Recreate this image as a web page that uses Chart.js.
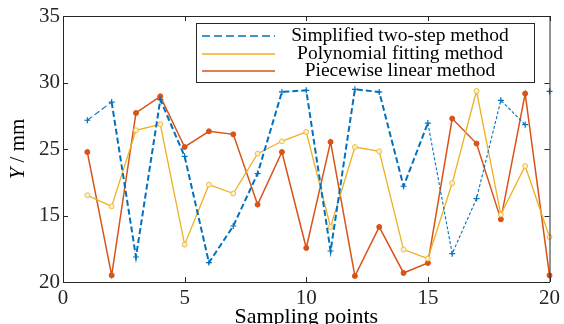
<!DOCTYPE html>
<html>
<head>
<meta charset="utf-8">
<script src="https://cdn.jsdelivr.net/npm/chart.js@4.4.1/dist/chart.umd.min.js"></script>
<style>
  html, body { margin: 0; padding: 0; background: #fff; }
</style>
</head>
<body>
<canvas id="chart" width="564" height="324"></canvas>
<script>
// data
const samplePoints = [1, 2, 3, 4, 5, 6, 7, 8, 9, 10, 11, 12, 13, 14, 15, 16, 17, 18, 19, 20];
const twoStep   = [27.16, 28.53, 16.88, 28.71, 24.45, 16.46, 19.21, 23.15, 29.29, 29.41,
                   17.33, 29.49, 29.29, 22.2, 26.95, 17.13, 21.27, 28.66, 26.83, 29.34];
const polyFit   = [21.52, 20.69, 26.41, 26.86, 17.81, 22.32, 21.65, 24.65, 25.58, 26.28,
                   19.14, 25.15, 24.83, 17.44, 16.76, 22.44, 29.36, 20.07, 23.72, 18.38];
const piecewise = [24.77, 15.5, 27.71, 28.96, 25.15, 26.33, 26.1, 20.82, 24.77, 17.56,
                   25.53, 15.45, 19.14, 15.68, 16.43, 27.29, 25.41, 19.71, 29.17, 15.5];
const seriesNames = ['Simplified two-step method', 'Polynomial fitting method', 'Piecewise linear method'];
const xTicks = [0, 5, 10, 15, 20];
const yTickValues = [15, 20, 25, 30, 35];
const yTickLabels = ['20', '15', '25', '30', '35'];

const BLUE = '#0072BD', ORANGE = '#EDB120', RED = '#D95319';
const SERIF = "'Liberation Serif', 'Times New Roman', serif";

const toXY = vals => vals.map((v, i) => ({ x: samplePoints[i], y: v }));

// box, inward ticks, y title and legend, MATLAB style
const framePlugin = {
    id: 'frame',
    afterDraw(chart) {
        const { ctx, chartArea: a, scales } = chart;
        ctx.save();
        ctx.strokeStyle = '#262626';
        ctx.lineWidth = 1;
        ctx.beginPath();
        ctx.moveTo(a.left, a.top + 0.5);
        ctx.lineTo(a.right + 0.5, a.top + 0.5);
        ctx.lineTo(a.right + 0.5, a.bottom);
        const tl = 5;
        xTicks.forEach(v => {
            const px = Math.round(scales.x.getPixelForValue(v)) + 0.5;
            ctx.moveTo(px, a.bottom); ctx.lineTo(px, a.bottom - tl);
            ctx.moveTo(px, a.top); ctx.lineTo(px, a.top + tl);
        });
        yTickValues.forEach(v => {
            const py = Math.round(scales.y.getPixelForValue(v)) + 0.5;
            ctx.moveTo(a.left, py); ctx.lineTo(a.left + tl, py);
            ctx.moveTo(a.right, py); ctx.lineTo(a.right - tl, py);
        });
        ctx.stroke();

        // y title with italic Y
        ctx.translate(18, (a.top + a.bottom) / 2);
        ctx.rotate(-Math.PI / 2);
        ctx.fillStyle = '#000';
        ctx.textBaseline = 'middle';
        ctx.font = 'italic 21px ' + SERIF;
        const wY = ctx.measureText('Y').width;
        ctx.font = '21px ' + SERIF;
        const rest = ' / mm';
        const wR = ctx.measureText(rest).width;
        let x0 = -(wY + wR) / 2;
        ctx.textAlign = 'left';
        ctx.font = 'italic 21px ' + SERIF;
        ctx.fillText('Y', x0, 0);
        ctx.font = '21px ' + SERIF;
        ctx.fillText(rest, x0 + wY, 0);
        ctx.restore();

        // legend
        ctx.save();
        const box = { l: 196.5, t: 23.5, r: 534.5, b: 82.5 };
        ctx.fillStyle = '#fff';
        ctx.fillRect(box.l, box.t, box.r - box.l, box.b - box.t);
        ctx.strokeStyle = '#262626';
        ctx.lineWidth = 1;
        ctx.strokeRect(box.l, box.t, box.r - box.l, box.b - box.t);
        const rows = [36, 54, 71];
        chart.data.datasets.forEach((ds, i) => {
            ctx.beginPath();
            ctx.strokeStyle = ds.borderColor;
            ctx.lineWidth = 1.3;
            ctx.setLineDash(i === 0 ? [8, 4] : []);
            ctx.moveTo(202, rows[i]);
            ctx.lineTo(275, rows[i]);
            ctx.stroke();
            ctx.setLineDash([]);
            ctx.fillStyle = '#000';
            ctx.font = '19.5px ' + SERIF;
            ctx.textAlign = 'center';
            ctx.textBaseline = 'middle';
            ctx.fillText(ds.label, 400, rows[i]);
        });
        ctx.restore();
    }
};

new Chart(document.getElementById('chart').getContext('2d'), {
    type: 'line',
    data: {
        datasets: [
            {
                label: seriesNames[0],
                data: toXY(twoStep),
                borderColor: BLUE,
                backgroundColor: BLUE,
                borderWidth: 2,
                borderDash: [6, 3],
                pointStyle: 'cross',
                pointRadius: 3,
                pointBorderWidth: 1.2,
                tension: 0,
                clip: false,
                segment: {
                    // thin line after point 15, no link between 19 and 20
                    borderWidth: c => (c.p0DataIndex >= 14 || c.p0DataIndex === 0) ? 1.1 : 2,
                    borderDash: c => c.p0DataIndex >= 14 ? [3, 2] : [6, 3],
                    borderColor: c => c.p0DataIndex === 18 ? 'rgba(0,0,0,0)' : BLUE
                }
            },
            {
                label: seriesNames[1],
                data: toXY(polyFit),
                borderColor: ORANGE,
                backgroundColor: '#fbeec8',
                borderWidth: 1.3,
                pointStyle: 'circle',
                pointRadius: 2.5,
                pointBorderWidth: 0.8,
                tension: 0,
                clip: false
            },
            {
                label: seriesNames[2],
                data: toXY(piecewise),
                borderColor: RED,
                backgroundColor: RED,
                borderWidth: 1.5,
                pointStyle: 'circle',
                pointRadius: 2.5,
                pointBorderWidth: 1,
                tension: 0,
                clip: false
            }
        ]
    },
    options: {
        responsive: false,
        animation: false,
        devicePixelRatio: 1,
        layout: { padding: { top: 16, right: 12, left: 0, bottom: 0 } },
        plugins: {
            legend: { display: false },
            tooltip: { enabled: false }
        },
        scales: {
            x: {
                type: 'linear',
                min: 0,
                max: 20,
                afterFit: s => { s.height = 42; },
                afterBuildTicks: s => { s.ticks = xTicks.map(v => ({ value: v })); },
                grid: { display: false, drawTicks: false },
                border: { display: true, color: '#262626', width: 1 },
                ticks: {
                    padding: 4,
                    maxRotation: 0,
                    color: '#262626',
                    font: { family: SERIF, size: 21 }
                },
                title: {
                    display: true,
                    text: 'Sampling points',
                    color: '#000',
                    padding: { top: 0, bottom: -6 },
                    font: { family: SERIF, size: 22 }
                }
            },
            y: {
                type: 'linear',
                min: 15,
                max: 35,
                afterFit: s => { s.width = 63; },
                afterBuildTicks: s => { s.ticks = yTickValues.map(v => ({ value: v })); },
                grid: { display: false, drawTicks: false },
                border: { display: true, color: '#262626', width: 1 },
                ticks: {
                    padding: 3,
                    color: '#262626',
                    font: { family: SERIF, size: 21 },
                    callback: v => {
                        const i = yTickValues.indexOf(v);
                        return i >= 0 ? yTickLabels[i] : '';
                    }
                }
            }
        }
    },
    plugins: [framePlugin]
});
</script>
</body>
</html>
